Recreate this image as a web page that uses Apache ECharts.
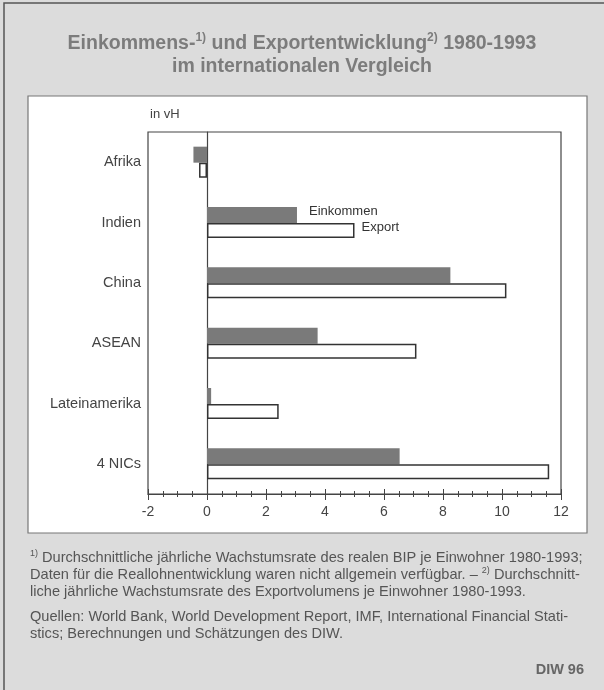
<!DOCTYPE html>
<html>
<head>
<meta charset="utf-8">
<script src="https://cdn.jsdelivr.net/npm/echarts@6/dist/echarts.min.js"></script>
<style>
  html, body { margin: 0; padding: 0; background: #dcdcdc; }
  #chart { width: 604px; height: 690px; }
</style>
</head>
<body>
<div id="chart"></div>
<script>
// Daten: durchschnittliche jaehrliche Wachstumsraten in vH
const regions = ['Afrika', 'Indien', 'China', 'ASEAN', 'Lateinamerika', '4 NICs'];
const einkommen = [-0.46, 3.05, 8.25, 3.75, 0.14, 6.53];
const exportVals = [-0.27, 5.0, 10.15, 7.1, 2.43, 11.6];
const xTicks = [-2, 0, 2, 4, 6, 8, 10, 12];

const font = '"Liberation Sans", Arial, sans-serif';

let chart = echarts.init(document.getElementById('chart'));

// Indien-Balken tragen die Beschriftung der beiden Reihen
function withLabel(values, name, dist, off) {
  return values.map(function (v, i) {
    if (i !== 1) return v;
    return {
      value: v,
      label: {
        show: true, position: 'right', distance: dist, offset: off,
        formatter: name, color: '#333', fontSize: 13, fontFamily: font
      }
    };
  });
}

const option = {
  backgroundColor: '#dcdcdc',
  animation: false,
  title: [
    {
      left: 'center', top: 27,
      text: 'Einkommens-{s|1)} und Exportentwicklung{s|2)} 1980-1993\nim internationalen Vergleich',
      textStyle: {
        fontFamily: font, fontSize: 19.5, fontWeight: 'bold', color: '#7c7c7c', lineHeight: 23,
        rich: { s: { fontSize: 12, fontWeight: 'bold', color: '#7c7c7c', verticalAlign: 'top', padding: [0, 0, 9, 0] } }
      }
    }
  ],
  graphic: [
    { type: 'rect', z: -10, shape: { x: 4, y: 3, width: 620, height: 700 },
      style: { fill: '#dcdcdc', stroke: '#555', lineWidth: 1.5 } },
    { type: 'rect', z: -5, shape: { x: 28, y: 96, width: 559, height: 437 },
      style: { fill: '#ffffff', stroke: '#777', lineWidth: 1.2 } },
    { type: 'text', left: 150, top: 108,
      style: { text: 'in vH', fontFamily: font, fontSize: 13, fill: '#444' } },
    { type: 'text', left: 30, top: 549,
      style: {
        text: '{s|1)} Durchschnittliche jährliche Wachstumsrate des realen BIP je Einwohner 1980-1993;\n' +
              'Daten für die Reallohnentwicklung waren nicht allgemein verfügbar. – {s|2)} Durchschnitt-\n' +
              'liche jährliche Wachstumsrate des Exportvolumens je Einwohner 1980-1993.',
        fontFamily: font, fontSize: 14.6, fill: '#555', lineHeight: 17,
        rich: { s: { fontSize: 9, fill: '#555', verticalAlign: 'top', padding: [0, 0, 6, 0] } }
      } },
    { type: 'text', left: 30, top: 608,
      style: {
        text: 'Quellen: World Bank, World Development Report, IMF, International Financial Stati-\n' +
              'stics; Berechnungen und Schätzungen des DIW.',
        fontFamily: font, fontSize: 14.6, fill: '#555', lineHeight: 17
      } },
    { type: 'text', right: 20, top: 662,
      style: { text: 'DIW 96', fontFamily: font, fontSize: 14.5, fontWeight: 'bold', fill: '#666' } }
  ],
  grid: {
    left: 148, right: 43, top: 132, bottom: 196,
    show: true, borderColor: '#444', borderWidth: 1.2, backgroundColor: 'transparent'
  },
  xAxis: [
    {
      type: 'value', min: -2, max: 12, interval: 2, position: 'bottom',
      axisLine: { show: true, onZero: false, lineStyle: { color: '#444', width: 1.2 } },
      axisTick: { show: true, length: 6, lineStyle: { color: '#444' } },
      minorTick: { show: true, splitNumber: 4, length: 3, lineStyle: { color: '#444' } },
      splitLine: { show: false },
      axisLabel: {
        margin: 11, fontFamily: font, fontSize: 14, color: '#444',
        formatter: function (v) { return xTicks.indexOf(v) >= 0 ? String(v) : ''; }
      }
    },
    {
      type: 'value', min: -2, max: 12, interval: 2, position: 'bottom', offset: 0,
      axisLine: { show: false },
      axisTick: { show: true, inside: true, length: 5, lineStyle: { color: '#444' } },
      minorTick: { show: true, splitNumber: 4, length: 3, lineStyle: { color: '#444' } },
      splitLine: { show: false },
      axisLabel: { show: false }
    }
  ],
  yAxis: [
    {
      type: 'category', data: regions, inverse: true,
      axisLine: { show: true, onZero: true, lineStyle: { color: '#444', width: 1.2 } },
      axisTick: { show: false },
      axisLabel: { show: false }
    },
    // Kategorienbeschriftung links vom Rahmen (Achse selbst liegt auf der Null)
    {
      type: 'category', data: regions, inverse: true, position: 'left',
      axisLine: { show: false }, axisTick: { show: false },
      axisLabel: { margin: 7, fontFamily: font, fontSize: 14.5, color: '#444' }
    }
  ],
  series: [
    {
      name: 'Einkommen', type: 'bar', xAxisIndex: 0,
      data: withLabel(einkommen, 'Einkommen', 12, [0, -4]),
      barWidth: 16, barGap: '0%',
      itemStyle: { color: '#7a7a7a' }
    },
    {
      name: 'Export', type: 'bar', xAxisIndex: 0,
      data: withLabel(exportVals, 'Export', 7, [0, -3]),
      barWidth: 15, barGap: '0%',
      itemStyle: { color: '#ffffff', borderColor: '#333', borderWidth: 1.5 }
    }
  ]
};

chart.setOption(option);
</script>
</body>
</html>
